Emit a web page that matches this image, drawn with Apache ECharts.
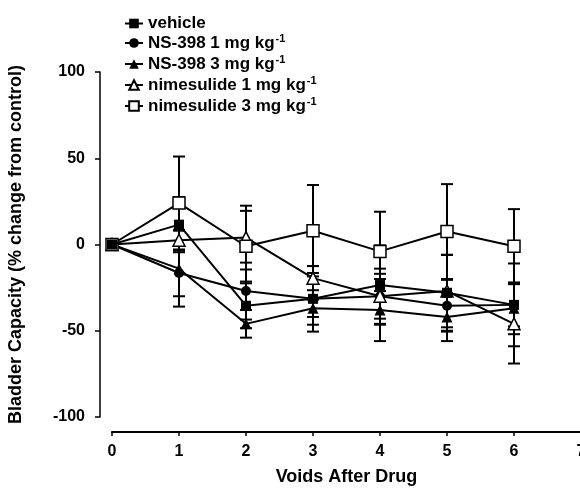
<!DOCTYPE html>
<html>
<head>
<meta charset="utf-8">
<script src="https://cdn.jsdelivr.net/npm/echarts@6/dist/echarts.min.js"></script>
<style>
  html, body { margin: 0; padding: 0; background: #fff; }
  #chart { width: 580px; height: 488px; }
</style>
</head>
<body>
<div id="chart"></div>
<script>
// voids after drug
const voids = [0, 1, 2, 3, 4, 5, 6]
// mean % change and SEM per group
const vehicle = [0, 11.5, -35.5, -31.5, -23.5, -28, -35]
const vehicleSem = [0, 16, 13, 19, 23, 22, 24]
const ns1 = [0, -16.5, -27, -31.5, -30, -35.5, -35]
const ns1Sem = [0, 13.5, 16.5, 15, 16, 15, 12.5]
const ns3 = [0, -14, -46, -37, -38, -42, -37]
const ns3Sem = [0, 22, 8, 5, 18, 14, 15]
const nim1 = [0, 2.5, 4, -19.5, -30, -27, -46]
const nim1Sem = [0, 6, 18.5, 7, 13, 21, 23]
const nim3 = [0, 24, -1, 8, -4, 7.5, -1]
const nim3Sem = [0, 27, 20.5, 26.5, 23, 27.5, 21.5]
const yTicks = [-100, -50, 0, 50, 100]

const groups = [
  { name: 'vehicle', mean: vehicle, sem: vehicleSem, symbol: 'rect', size: 10, fill: '#000' },
  { name: 'NS-398 1 mg kg-1', mean: ns1, sem: ns1Sem, symbol: 'circle', size: 10, fill: '#000' },
  { name: 'NS-398 3 mg kg-1', mean: ns3, sem: ns3Sem, symbol: 'triangle', size: 11, fill: '#000' },
  { name: 'nimesulide 1 mg kg-1', mean: nim1, sem: nim1Sem, symbol: 'triangle', size: 12, fill: '#fff' },
  { name: 'nimesulide 3 mg kg-1', mean: nim3, sem: nim3Sem, symbol: 'rect', size: 12, fill: '#fff' }
]

const font = "'Liberation Sans', Arial, sans-serif"
const myChart = echarts.init(document.getElementById('chart'))

const errData = []
groups.forEach(g => {
  voids.forEach((v, i) => errData.push([v, g.mean[i], g.sem[i]]))
})

const series = []
series.push({
  type: 'custom',
  z: 1,
  data: errData,
  encode: { x: 0, y: 1 },
  renderItem: function (params, api) {
    const x = api.value(0), m = api.value(1), s = api.value(2)
    if (!s) return
    const top = api.coord([x, m + s])
    const bot = api.coord([x, m - s])
    const hw = 6
    const st = { stroke: '#000', lineWidth: 2 }
    return {
      type: 'group',
      children: [
        { type: 'line', shape: { x1: top[0], y1: top[1], x2: bot[0], y2: bot[1] }, style: st },
        { type: 'line', shape: { x1: top[0] - hw, y1: top[1], x2: top[0] + hw, y2: top[1] }, style: st },
        { type: 'line', shape: { x1: bot[0] - hw, y1: bot[1], x2: bot[0] + hw, y2: bot[1] }, style: st }
      ]
    }
  }
})
groups.forEach((g, k) => {
  series.push({
    name: g.name,
    type: 'line',
    z: k === 0 ? 8 : 3 + k,
    data: voids.map((v, i) => [v, g.mean[i]]),
    symbol: g.symbol,
    symbolSize: g.size,
    showAllSymbol: true,
    lineStyle: { color: '#000', width: 2 },
    itemStyle: { color: g.fill, borderColor: '#000', borderWidth: g.fill === '#fff' ? 1.5 : 0 },
    emphasis: { disabled: true }
  })
})

const option = {
  animation: false,
  backgroundColor: '#fff',
  legend: {
    data: groups.map(g => g.name),
    orient: 'vertical',
    left: 119,
    top: 10,
    itemWidth: 18,
    itemHeight: 12,
    itemGap: 1,
    selectedMode: false,
    formatter: function (name) {
      if (name.endsWith(' kg-1')) {
        return '{b|' + name.slice(0, -2) + '}{s|-1}'
      }
      return '{b|' + name + '}'
    },
    textStyle: {
      rich: {
        b: { fontFamily: font, fontWeight: 'bold', fontSize: 17, color: '#000', lineHeight: 18 },
        s: { fontFamily: font, fontWeight: 'bold', fontSize: 11, color: '#000', lineHeight: 18, padding: [0, 0, 9, 1] }
      }
    }
  },
  grid: { left: 112, top: 72, width: 469, height: 345, outerBoundsMode: 'none' },
  xAxis: {
    type: 'value',
    min: 0,
    max: 7,
    interval: 1,
    offset: 15,
    name: 'Voids After Drug',
    nameLocation: 'middle',
    nameGap: 36,
    nameTextStyle: { fontFamily: font, fontWeight: 'bold', fontSize: 18, color: '#000' },
    axisLine: { show: true, onZero: false, lineStyle: { color: '#000', width: 2 } },
    axisTick: { show: true, length: 4, lineStyle: { color: '#000', width: 1.5 } },
    axisLabel: { margin: 12, fontFamily: font, fontWeight: 'bold', fontSize: 16, color: '#000' },
    splitLine: { show: false }
  },
  yAxis: {
    type: 'value',
    min: yTicks[0],
    max: yTicks[yTicks.length - 1],
    interval: 50,
    offset: 12,
    name: 'Bladder Capacity (% change from control)',
    nameLocation: 'middle',
    nameGap: 75,
    nameTextStyle: { fontFamily: font, fontWeight: 'bold', fontSize: 18, color: '#000' },
    axisLine: { show: true, onZero: false, lineStyle: { color: '#000', width: 1.5 } },
    axisTick: { show: true, length: 5, lineStyle: { color: '#000', width: 1.5 } },
    axisLabel: { margin: 15, fontFamily: font, fontWeight: 'bold', fontSize: 16, color: '#000' },
    splitLine: { show: false }
  },
  series: series
}

myChart.setOption(option)
</script>
</body>
</html>
